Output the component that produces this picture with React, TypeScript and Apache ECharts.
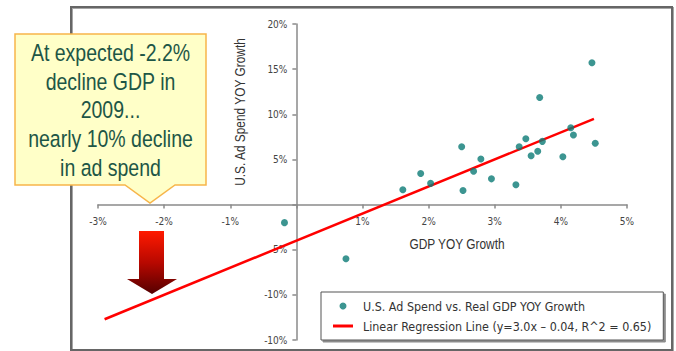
import React, { useEffect, useRef } from "react";
import * as echarts from "echarts";

// GDP YOY growth (%) and U.S. ad spend YOY growth (%) per observation
const gdpGrowth = [4.47, 3.68, 4.15, 4.19, 4.52, 4.03, 3.72, 3.65, 3.55, 3.47, 3.37, 3.32, 2.95, 2.79, 2.68, 2.5, 2.52, 2.03, 1.88, 1.61, -0.18, 0.75];
const adSpendGrowth = [15.7, 11.85, 8.5, 7.7, 6.8, 5.3, 7.0, 5.9, 5.4, 7.3, 6.4, 2.2, 2.85, 5.05, 3.7, 6.4, 1.55, 2.35, 3.45, 1.65, -2.0, -6.0];

// Regression: y = 3.0x - 0.04 (in % units: y = 3.0x - 4)
const regressionSlope = 3.0;
const regressionIntercept = -4;
const regressionRangeX = [-2.9, 4.5];

const xTickValues = [-3, -2, -1, 0, 1, 2, 3, 4, 5];
const xTickLabels = ["-3%", "-2%", "-1%", "", "1%", "2%", "3%", "4%", "5%"];
const yTickValues = [-15, -10, -5, 0, 5, 10, 15, 20];
const yTickLabels = ["-10%", "-10%", "-5%", "", "5%", "10%", "15%", "20%"];

const scatterName = "U.S. Ad Spend vs. Real GDP YOY Growth";
const lineName = "Linear Regression Line (y=3.0x \u2013 0.04, R^2 = 0.65)";
const calloutLines = ["At expected -2.2%", "decline GDP in", "2009...", "nearly 10% decline", "in ad spend"];

const FONT = "'DejaVu Sans Condensed', 'Liberation Sans', sans-serif";
const ARIAL = "'Liberation Sans', Arial, sans-serif";

const X_MIN = -3, X_MAX = 5, Y_MIN = -15, Y_MAX = 20;
const GRID = { left: 98, right: 49, top: 24, bottom: 11 };
const W = 676, H = 351;

export default function App() {
  const ref = useRef<HTMLDivElement>(null);
  useEffect(() => {
    if (!ref.current) return;
    const chart = echarts.init(ref.current, undefined, { renderer: "svg" });
    const scatterData = gdpGrowth.map((x, i) => [x, adSpendGrowth[i]]);
    const lineData = regressionRangeX.map((x) => [x, +(regressionSlope * x + regressionIntercept).toFixed(3)]);
    const labelFor = (vals: number[], labels: string[]) => (v: number) => {
      const i = vals.findIndex((t) => Math.abs(t - v) < 1e-6);
      return i >= 0 ? labels[i] : "";
    };
    const gw = W - GRID.left - GRID.right;
    const gh = H - GRID.top - GRID.bottom;
    // shift axes so they cross at the origin
    const yAxisOffset = -((0 - X_MIN) / (X_MAX - X_MIN)) * gw;
    const xAxisOffset = -((0 - Y_MIN) / (Y_MAX - Y_MIN)) * gh;
    chart.setOption({
      animation: false,
      backgroundColor: "#ffffff",
      grid: { ...GRID, containLabel: false },
      xAxis: {
        type: "value",
        min: X_MIN,
        max: X_MAX,
        interval: 1,
        offset: xAxisOffset,
        axisLine: { onZero: false, lineStyle: { color: "#8a8a8a", width: 1.5 } },
        axisTick: { show: true, length: 4, lineStyle: { color: "#8a8a8a", width: 1.5 } },
        axisLabel: {
          formatter: labelFor(xTickValues, xTickLabels),
          color: "#444",
          fontFamily: FONT,
          fontSize: 10,
          margin: 12,
        },
        splitLine: { show: false },
      },
      yAxis: {
        type: "value",
        min: Y_MIN,
        max: Y_MAX,
        interval: 5,
        offset: yAxisOffset,
        axisLine: { show: true, onZero: false, lineStyle: { color: "#8a8a8a", width: 1.5 } },
        axisTick: { show: true, length: 4, lineStyle: { color: "#8a8a8a", width: 1.5 } },
        axisLabel: {
          formatter: labelFor(yTickValues, yTickLabels),
          color: "#444",
          fontFamily: FONT,
          fontSize: 10,
          margin: 9,
        },
        splitLine: { show: false },
      },
      legend: {
        orient: "vertical",
        left: 321,
        top: 292,
        padding: [7.5, 12, 7.5, 12],
        itemWidth: 20,
        itemHeight: 7,
        itemGap: 7,
        backgroundColor: "#ffffff",
        borderColor: "#555",
        borderWidth: 1,
        shadowColor: "rgba(0,0,0,0.45)",
        shadowBlur: 1,
        shadowOffsetX: 2,
        shadowOffsetY: 2,
        textStyle: { color: "#333", fontFamily: FONT, fontSize: 12.4, lineHeight: 13, padding: [0, 0, 0, 5] },
        data: [
          { name: scatterName, icon: "circle" },
          { name: lineName, icon: "path://M0,0L20,0L20,3L0,3Z" },
        ],
      },
      series: [
        {
          name: lineName,
          type: "line",
          data: lineData,
          showSymbol: false,
          symbol: "none",
          lineStyle: { color: "#ff0000", width: 2.5 },
          itemStyle: { color: "#ff0000" },
          z: 2,
        },
        {
          name: scatterName,
          type: "scatter",
          data: scatterData,
          symbol: "circle",
          symbolSize: 7,
          itemStyle: { color: "#0b7a76" },
          z: 3,
        },
      ],
      graphic: [
        {
          type: "rect",
          shape: { x: 71, y: 7, width: 601, height: 343 },
          style: {
            fill: "none",
            stroke: "#666",
            lineWidth: 2,
            shadowColor: "rgba(0,0,0,0.35)",
            shadowBlur: 1,
            shadowOffsetX: 1,
            shadowOffsetY: 1,
          },
          z: 0,
          silent: true,
        },
        {
          type: "text",
          x: 457,
          y: 244,
          scaleX: 0.85,
          style: {
            text: "GDP YOY Growth",
            fontFamily: ARIAL,
            fontSize: 14,
            fill: "#333",
            align: "center",
            verticalAlign: "middle",
          },
          z: 10,
        },
        {
          type: "text",
          x: 240,
          y: 112,
          rotation: Math.PI / 2,
          scaleX: 0.85,
          style: {
            text: "U.S. Ad Spend YOY Growth",
            fontFamily: ARIAL,
            fontSize: 14,
            fill: "#333",
            align: "center",
            verticalAlign: "middle",
          },
          z: 10,
        },
        {
          type: "polygon",
          shape: {
            points: [
              [139, 231],
              [164, 231],
              [164, 279],
              [177, 279],
              [152, 294],
              [127, 279],
              [139, 279],
            ],
          },
          style: {
            fill: new echarts.graphic.LinearGradient(0, 0, 0, 1, [
              { offset: 0, color: "#ff1a00" },
              { offset: 0.5, color: "#b80800" },
              { offset: 1, color: "#550000" },
            ]),
          },
          z: 20,
        },
        {
          type: "polygon",
          shape: {
            points: [
              [15, 34],
              [206, 34],
              [206, 185],
              [175, 185],
              [150, 203],
              [125, 185],
              [15, 185],
            ],
          },
          style: { fill: "#ffffc8", stroke: "#f7b54a", lineWidth: 1.5 },
          z: 30,
        },
        {
          type: "text",
          x: 110.5,
          y: 38.5,
          scaleX: 0.83,
          style: {
            text: calloutLines.join("\n"),
            fontFamily: ARIAL,
            fontSize: 23.5,
            lineHeight: 28.7,
            fill: "#1d5646",
            align: "center",
            verticalAlign: "top",
          },
          z: 31,
        },
      ],
    });
    return () => chart.dispose();
  }, []);
  return <div ref={ref} style={{ position: "fixed", left: 0, top: 0, width: W, height: H }} />;
}
